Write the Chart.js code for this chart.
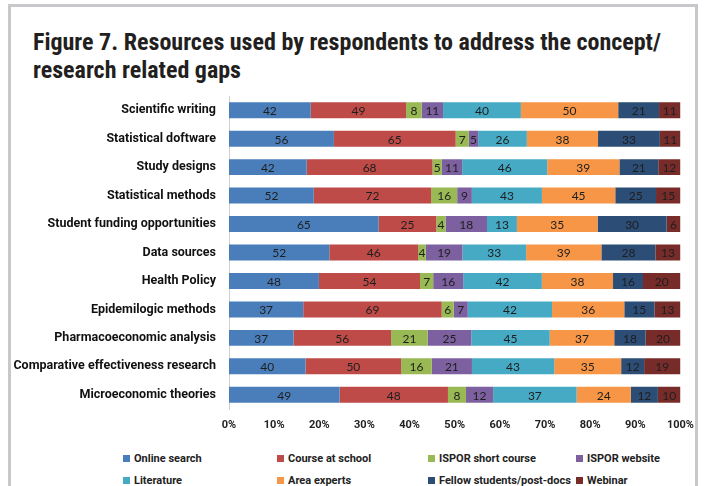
<!DOCTYPE html>
<html>
<head>
<meta charset="utf-8">
<script src="https://cdn.jsdelivr.net/npm/chart.js@4/dist/chart.umd.min.js"></script>
<style>
  html, body { margin:0; padding:0; background:#fff; }
  body { width:704px; height:486px; position:relative; overflow:hidden; }
  #frame { position:absolute; left:8px; top:4px; width:684px; height:520px;
           border:3px solid #c8c8cc; border-bottom:none; }
  #title { position:absolute; left:33px; top:28px; width:660px;
           font-family:"Liberation Sans Narrow","Arial Narrow","Roboto Condensed",sans-serif;
           font-weight:bold; font-size:24px; line-height:28px; color:#231f20; }
  #wrap { position:absolute; left:0; top:0; width:704px; height:440px; }
  #legend { position:absolute; left:0; top:449px; width:704px; height:36px;
            font-family:Roboto,"Open Sans",sans-serif; font-weight:bold; font-size:11px; color:#222; }
  .li { position:absolute; white-space:nowrap; line-height:14px; }
  .sw { display:inline-block; width:7px; height:7px; margin-right:4px; vertical-align:0px; }
</style>
</head>
<body>
<div id="frame"></div>
<div id="title">Figure 7. Resources used by respondents to address the concept/<br>research related gaps</div>
<div id="wrap"><canvas id="c" width="704" height="440"></canvas></div>
<div id="legend"></div>
<script>
const categories = ["Scientific writing","Statistical doftware","Study designs","Statistical methods",
  "Student funding opportunities","Data sources","Health Policy","Epidemilogic methods",
  "Pharmacoeconomic analysis","Comparative effectiveness research","Microeconomic theories"];
const seriesNames = ["Online search","Course at school","ISPOR short course","ISPOR website",
  "Literature","Area experts","Fellow students/post-docs","Webinar"];
const onlineSearch   = [42,56,42,52,65,52,48,37,37,40,49];
const courseAtSchool = [49,65,68,72,25,46,54,69,56,50,48];
const isporShort     = [8,7,5,16,4,4,7,6,21,16,8];
const isporWebsite   = [11,5,11,9,18,19,16,7,25,21,12];
const literature     = [40,26,46,43,13,33,42,42,45,43,37];
const areaExperts    = [50,38,39,45,35,39,38,36,37,35,24];
const fellowStudents = [21,33,21,25,30,28,16,15,18,12,12];
const webinar        = [11,11,12,15,6,13,20,13,20,19,10];
const tickLabels = ["0%","10%","20%","30%","40%","50%","60%","70%","80%","90%","100%"];

const colors = ["#4a7ebb","#be4b48","#98b954","#7d60a0","#46aac5","#f79646","#2c4d75","#772c2a"];
const series = [onlineSearch,courseAtSchool,isporShort,isporWebsite,literature,areaExperts,fellowStudents,webinar];
const totals = categories.map((_,i)=>series.reduce((s,a)=>s+a[i],0));

const datasets = series.map((arr,k)=>({
  label: seriesNames[k],
  raw: arr,
  data: arr.map((v,i)=>v/totals[i]*100),
  backgroundColor: colors[k],
  borderWidth: 0,
  barPercentage: 0.56,
  categoryPercentage: 1.0
}));

const valueLabels = {
  id:'valueLabels',
  afterDatasetsDraw(chart){
    const ctx = chart.ctx;
    ctx.save();
    ctx.font = '12px Lato, "Open Sans", sans-serif';
    ctx.fillStyle = '#1e1e1e';
    ctx.textAlign = 'center';
    ctx.textBaseline = 'middle';
    chart.data.datasets.forEach((ds,di)=>{
      const meta = chart.getDatasetMeta(di);
      meta.data.forEach((el,i)=>{
        const x = (el.x + el.base)/2;
        ctx.fillText(String(ds.raw[i]), x, el.y+1);
      });
    });
    ctx.restore();
  }
};

const chart = new Chart(document.getElementById('c'), {
  type:'bar',
  data:{ labels:categories, datasets },
  options:{
    indexAxis:'y',
    responsive:false,
    animation:false,
    layout:{ padding:{ top:96, right:21, left:0, bottom:0 } },
    plugins:{ legend:{display:false}, tooltip:{enabled:false}, title:{display:false} },
    scales:{
      x:{
        stacked:true, min:0, max:100,
        grid:{ display:false, drawTicks:false },
        border:{ display:false },
        ticks:{ stepSize:10, padding:10, color:'#222', maxRotation:0,
                font:{ family:'Roboto, "Open Sans", sans-serif', weight:'bold', size:11 },
                callback:(v,i)=>tickLabels[i] },
        afterFit(s){ s.height = 31; }
      },
      y:{
        stacked:true,
        grid:{ display:false, drawTicks:false },
        border:{ display:true, color:'#d0d0d0', width:1 },
        ticks:{ padding:13, color:'#111',
                font:{ family:'Roboto, "Open Sans", sans-serif', weight:'bold', size:12.5 } },
        afterFit(s){ s.width = 229; }
      }
    }
  },
  plugins:[valueLabels]
});

// legend built from chart datasets
const legend = document.getElementById('legend');
const colX = [123,277,428,576];
chart.data.datasets.forEach((ds,k)=>{
  const d = document.createElement('div');
  d.className = 'li';
  d.style.left = colX[k%4] + 'px';
  d.style.top = (k<4 ? 3 : 25) + 'px';
  d.innerHTML = '<span class="sw" style="background:'+ds.backgroundColor+'"></span>'+ds.label;
  legend.appendChild(d);
});
</script>
</body>
</html>
